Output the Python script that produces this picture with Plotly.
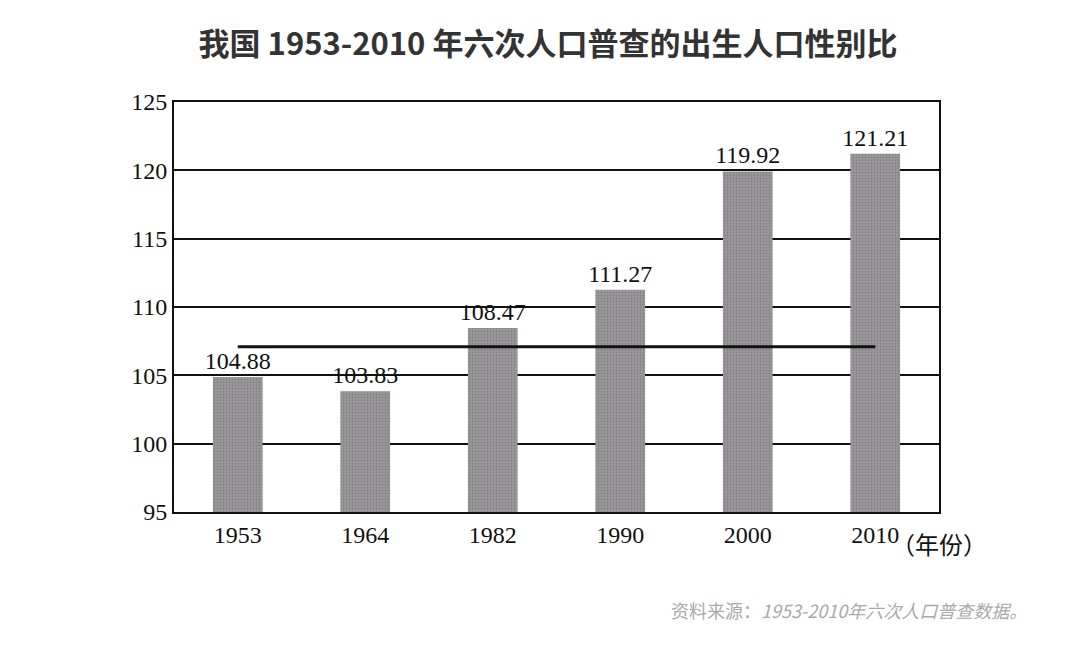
import plotly.graph_objects as go

years = ["1953", "1964", "1982", "1990", "2000", "2010"]
ratios = [104.88, 103.83, 108.47, 111.27, 119.92, 121.21]
ref_level = 107.1  # horizontal reference line
y_ticks = [95, 100, 105, 110, 115, 120, 125]

serif = "Liberation Serif, Times New Roman, serif"

fig = go.Figure()
fig.add_trace(go.Bar(
    x=years, y=ratios, width=0.39,
    marker=dict(color="#8c8a8c", line=dict(width=0),
                pattern=dict(shape=".", fgcolor="#6a686a", bgcolor="#9a989a", size=3, solidity=0.3)),
    text=[f"{v:.2f}" for v in ratios], textposition="outside", constraintext="none",
    textfont=dict(family=serif, size=24, color="#111"),
    cliponaxis=False, showlegend=False,
))
fig.add_trace(go.Scatter(
    x=[years[0], years[-1]], y=[ref_level, ref_level], mode="lines",
    line=dict(color="#111", width=3), showlegend=False, hoverinfo="skip",
))

fig.update_layout(
    width=1080, height=655,
    paper_bgcolor="white", plot_bgcolor="white",
    margin=dict(l=166, r=149, t=94, b=151),
    title=dict(text="<b>我国 1953-2010 年六次人口普查的出生人口性别比</b>",
               x=0.5, y=0.945, xanchor="center", yanchor="middle",
               font=dict(family="Noto Sans CJK SC", size=31, color="#333")),
    xaxis=dict(showline=True, linecolor="#111", linewidth=2, mirror=True,
               ticks="", tickfont=dict(family=serif, size=24, color="#111")),
    yaxis=dict(range=[95, 125], tickvals=y_ticks, showgrid=True, gridcolor="#111", gridwidth=1.5,
               showline=True, linecolor="#111", linewidth=2, mirror=True,
               ticks="", tickfont=dict(family=serif, size=24, color="#111")),
    bargap=0.6,
)
fig.add_annotation(text="（年份）", xref="paper", yref="paper", x=1.0, y=-0.03,
                   xanchor="center", yanchor="top", showarrow=False,
                   font=dict(family="Noto Sans CJK SC", size=24, color="#111"))
fig.add_annotation(text="资料来源：<i>1953-2010年六次人口普查数据。</i>", xref="paper", yref="paper",
                   x=1.117, y=-0.24, xanchor="right", yanchor="middle", showarrow=False,
                   font=dict(family="Noto Sans CJK SC", size=18, color="#aaa"))

fig.write_html("out.html")
